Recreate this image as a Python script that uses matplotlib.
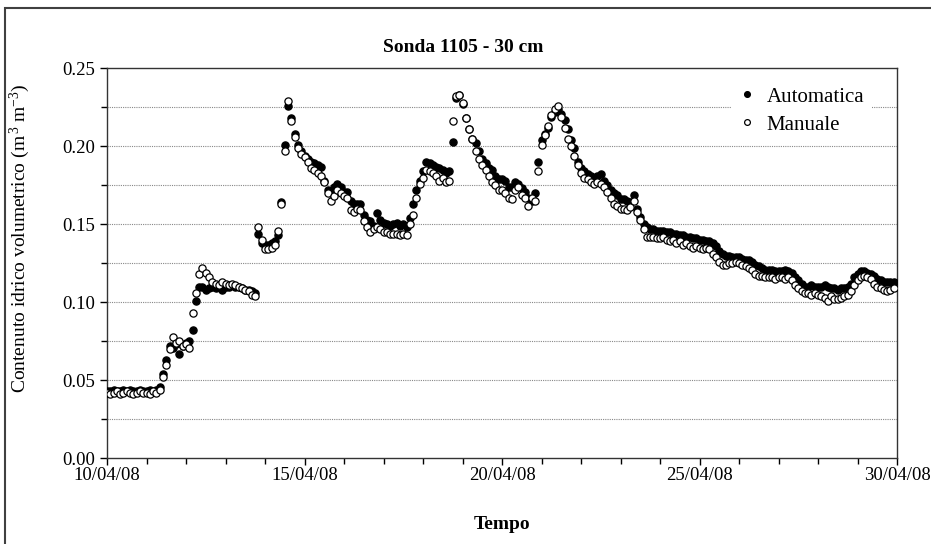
import numpy as np
import pandas as pd
import matplotlib
matplotlib.use('Agg')
import matplotlib.pyplot as plt
import matplotlib.dates as mdates
from matplotlib.ticker import MultipleLocator, FormatStrFormatter
from matplotlib.patches import Rectangle

plt.rcParams['font.family'] = ['Liberation Serif', 'DejaVu Serif']
plt.rcParams['mathtext.fontset'] = 'custom'
plt.rcParams['mathtext.rm'] = 'Liberation Serif'
plt.rcParams['mathtext.it'] = 'Liberation Serif:italic'

# data: readings every 2 hours from 10/04/08 00:00 (one row = one day)
times = pd.date_range('2008-04-10 00:00', periods=240, freq='2h')

automatica = [
    0.043, 0.043, 0.044, 0.043, 0.043, 0.044, 0.043, 0.044, 0.043, 0.043, 0.044, 0.043,  # 10
    0.043, 0.044, 0.043, 0.044, 0.046, 0.054, 0.063, 0.072, 0.071, 0.073, 0.067, 0.072,  # 11
    0.074, 0.075, 0.082, 0.101, 0.110, 0.110, 0.108, 0.109, 0.110, 0.109, 0.110, 0.108,  # 12
    0.110, 0.110, 0.111, 0.110, 0.110, 0.109, 0.108, 0.108, 0.107, 0.106, 0.144, 0.138,  # 13
    0.137, 0.137, 0.138, 0.139, 0.143, 0.164, 0.201, 0.226, 0.218, 0.208, 0.201, 0.197,  # 14
    0.194, 0.192, 0.190, 0.189, 0.188, 0.187, 0.178, 0.172, 0.170, 0.174, 0.176, 0.174,  # 15
    0.171, 0.171, 0.165, 0.163, 0.163, 0.163, 0.156, 0.153, 0.152, 0.149, 0.157, 0.153,  # 16
    0.151, 0.150, 0.149, 0.150, 0.151, 0.149, 0.150, 0.148, 0.154, 0.163, 0.172, 0.178,  # 17
    0.184, 0.190, 0.189, 0.188, 0.187, 0.186, 0.185, 0.183, 0.184, 0.203, 0.231, 0.233,  # 18
    0.227, 0.218, 0.211, 0.205, 0.202, 0.197, 0.192, 0.189, 0.186, 0.185, 0.181, 0.179,  # 19
    0.179, 0.178, 0.174, 0.174, 0.177, 0.176, 0.173, 0.171, 0.167, 0.165, 0.170, 0.190,  # 20
    0.204, 0.208, 0.212, 0.219, 0.222, 0.224, 0.221, 0.217, 0.211, 0.204, 0.199, 0.190,  # 21
    0.186, 0.184, 0.182, 0.181, 0.180, 0.181, 0.182, 0.178, 0.175, 0.172, 0.170, 0.169,  # 22
    0.166, 0.166, 0.165, 0.164, 0.169, 0.160, 0.155, 0.150, 0.148, 0.147, 0.147, 0.146,  # 23
    0.146, 0.146, 0.145, 0.145, 0.144, 0.144, 0.143, 0.143, 0.142, 0.142, 0.141, 0.141,  # 24
    0.140, 0.140, 0.139, 0.139, 0.138, 0.136, 0.133, 0.131, 0.130, 0.130, 0.129, 0.129,  # 25
    0.129, 0.128, 0.127, 0.127, 0.126, 0.124, 0.123, 0.122, 0.121, 0.121, 0.121, 0.120,  # 26
    0.120, 0.120, 0.121, 0.120, 0.119, 0.116, 0.114, 0.112, 0.110, 0.110, 0.111, 0.110,  # 27
    0.110, 0.110, 0.111, 0.110, 0.109, 0.109, 0.108, 0.109, 0.109, 0.110, 0.112, 0.116,  # 28
    0.118, 0.120, 0.120, 0.119, 0.118, 0.117, 0.115, 0.114, 0.113, 0.113, 0.113, 0.113,  # 29
]

manuale = [
    0.042, 0.041, 0.042, 0.043, 0.041, 0.042, 0.043, 0.042, 0.041, 0.042, 0.043, 0.042,  # 10
    0.042, 0.041, 0.043, 0.042, 0.044, 0.052, 0.060, 0.070, 0.078, 0.074, 0.075, 0.072,  # 11
    0.073, 0.071, 0.093, 0.106, 0.118, 0.122, 0.119, 0.116, 0.113, 0.112, 0.111, 0.113,  # 12
    0.112, 0.111, 0.112, 0.111, 0.110, 0.109, 0.108, 0.107, 0.105, 0.104, 0.148, 0.140,  # 13
    0.134, 0.134, 0.135, 0.137, 0.146, 0.163, 0.197, 0.229, 0.216, 0.206, 0.199, 0.195,  # 14
    0.193, 0.190, 0.186, 0.185, 0.183, 0.181, 0.177, 0.170, 0.165, 0.168, 0.172, 0.170,  # 15
    0.168, 0.167, 0.159, 0.158, 0.160, 0.159, 0.152, 0.148, 0.145, 0.147, 0.148, 0.147,  # 16
    0.145, 0.145, 0.144, 0.144, 0.144, 0.143, 0.144, 0.143, 0.150, 0.156, 0.167, 0.176,  # 17
    0.180, 0.185, 0.184, 0.183, 0.181, 0.178, 0.180, 0.177, 0.178, 0.216, 0.232, 0.233,  # 18
    0.228, 0.218, 0.211, 0.205, 0.197, 0.192, 0.188, 0.185, 0.181, 0.177, 0.175, 0.172,  # 19
    0.172, 0.170, 0.167, 0.166, 0.172, 0.174, 0.169, 0.167, 0.162, 0.167, 0.165, 0.184,  # 20
    0.201, 0.207, 0.213, 0.220, 0.224, 0.226, 0.219, 0.212, 0.205, 0.200, 0.194, 0.188,  # 21
    0.183, 0.180, 0.179, 0.177, 0.176, 0.177, 0.176, 0.174, 0.171, 0.167, 0.163, 0.162,  # 22
    0.160, 0.160, 0.159, 0.161, 0.165, 0.158, 0.153, 0.147, 0.142, 0.142, 0.142, 0.141,  # 23
    0.141, 0.142, 0.140, 0.139, 0.140, 0.138, 0.139, 0.137, 0.138, 0.136, 0.135, 0.136,  # 24
    0.135, 0.134, 0.135, 0.134, 0.131, 0.129, 0.126, 0.124, 0.124, 0.125, 0.125, 0.126,  # 25
    0.125, 0.124, 0.123, 0.122, 0.121, 0.118, 0.117, 0.117, 0.116, 0.116, 0.116, 0.115,  # 26
    0.116, 0.116, 0.115, 0.116, 0.114, 0.111, 0.109, 0.107, 0.106, 0.106, 0.105, 0.106,  # 27
    0.105, 0.104, 0.103, 0.101, 0.104, 0.102, 0.102, 0.103, 0.104, 0.105, 0.107, 0.111,  # 28
    0.114, 0.116, 0.117, 0.116, 0.115, 0.112, 0.110, 0.109, 0.108, 0.107, 0.108, 0.109,  # 29
]

fig = plt.figure(figsize=(9.31, 5.44), dpi=100)
ax = fig.add_axes([107 / 931, 1 - 458.3 / 544, 790 / 931, 390 / 544])

ax.plot(times, automatica, linestyle='none', marker='o', ms=5.2,
        mfc='black', mec='black', mew=0.9, label='Automatica', zorder=3)
ax.plot(times, manuale, linestyle='none', marker='o', ms=5.2,
        mfc='white', mec='black', mew=0.9, label='Manuale', zorder=4)

ax.set_xlim(pd.Timestamp('2008-04-10'), pd.Timestamp('2008-04-30'))
ax.set_ylim(0, 0.25)

ax.xaxis.set_major_locator(mdates.DayLocator(bymonthday=[10, 15, 20, 25, 30]))
ax.xaxis.set_minor_locator(mdates.DayLocator())
ax.xaxis.set_major_formatter(mdates.DateFormatter('%d/%m/%y'))
ax.yaxis.set_major_locator(MultipleLocator(0.05))
ax.yaxis.set_minor_locator(MultipleLocator(0.025))
ax.yaxis.set_major_formatter(FormatStrFormatter('%.2f'))

ax.tick_params(axis='both', which='major', direction='out', length=5, width=1,
               labelsize=13.5, colors='black')
ax.tick_params(axis='both', which='minor', direction='out', length=4, width=1)
ax.tick_params(axis='x', which='major', pad=1)

# dotted horizontal grid every 0.025
for yv in np.arange(0.025, 0.25, 0.025):
    ax.axhline(yv, color='#888888', lw=0.8, linestyle=(0, (1, 1)), zorder=1)

for sp in ax.spines.values():
    sp.set_color('#333333')
    sp.set_linewidth(1.0)

ax.set_ylabel(r'Contenuto idrico volumetrico (m$^{\,3}$ m$^{-3}$)', fontsize=14)
ax.yaxis.set_label_coords(-0.095, 0.565)
ax.set_xlabel('Tempo', fontsize=14, fontweight='bold')
ax.xaxis.set_label_coords(0.5, -0.148)
fig.text(0.497, 1 - 48 / 544, 'Sonda 1105 - 30 cm', ha='center', va='center',
         fontsize=14, fontweight='bold')

leg = ax.legend(loc='upper right', bbox_to_anchor=(0.982, 1.0), fontsize=15,
                frameon=True, markerscale=0.8, handlelength=0.7, handletextpad=0.6,
                labelspacing=0.4, borderpad=0.4)
leg.get_frame().set_edgecolor('none')
leg.get_frame().set_facecolor('white')
leg.get_frame().set_alpha(1)
leg.set_zorder(5)

# chart border
fig.patches.append(Rectangle((5 / 931, -0.02), 1.0, 1 - 8 / 544 + 0.02,
                             transform=fig.transFigure, fill=False,
                             edgecolor='#404040', lw=1.5))

fig.savefig('out.png', dpi=100)
